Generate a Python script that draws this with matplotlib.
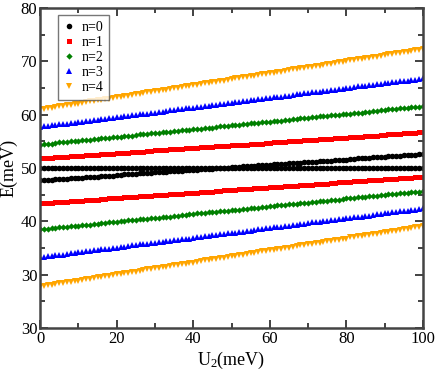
import matplotlib
matplotlib.use('Agg')
import matplotlib.pyplot as plt
import numpy as np

plt.rcParams['font.family'] = ['Liberation Serif', 'DejaVu Serif']
plt.rcParams['mathtext.fontset'] = 'stix'
plt.rcParams['mathtext.default'] = 'regular'

# U2 grid (meV), one marker per meV
u2 = list(range(0, 101))

# energies (meV), two branches per n
n0_flat = [
    50.0, 50.0, 50.0, 50.0, 50.0, 50.0, 50.0, 50.0, 50.0, 50.0,
    50.0, 50.0, 50.0, 50.0, 50.0, 50.0, 50.0, 50.0, 50.0, 50.0,
    50.0, 50.0, 50.0, 50.0, 50.0, 50.0, 50.0, 50.0, 50.0, 50.0,
    50.0, 50.0, 50.0, 50.0, 50.0, 50.0, 50.0, 50.0, 50.0, 50.0,
    50.0, 50.0, 50.0, 50.0, 50.0, 50.0, 50.0, 50.0, 50.0, 50.0,
    50.0, 50.0, 50.0, 50.0, 50.0, 50.0, 50.0, 50.0, 50.0, 50.0,
    50.0, 50.0, 50.0, 50.0, 50.0, 50.0, 50.0, 50.0, 50.0, 50.0,
    50.0, 50.0, 50.0, 50.0, 50.0, 50.0, 50.0, 50.0, 50.0, 50.0,
    50.0, 50.0, 50.0, 50.0, 50.0, 50.0, 50.0, 50.0, 50.0, 50.0,
    50.0, 50.0, 50.0, 50.0, 50.0, 50.0, 50.0, 50.0, 50.0, 50.0,
    50.0]
n0_rise = [
    47.7, 47.7, 47.8, 47.8, 47.9, 47.9, 48.0, 48.0, 48.1, 48.1,
    48.2, 48.2, 48.3, 48.3, 48.4, 48.4, 48.5, 48.5, 48.6, 48.6,
    48.7, 48.7, 48.8, 48.8, 48.9, 48.9, 49.0, 49.0, 49.1, 49.1,
    49.2, 49.2, 49.3, 49.3, 49.4, 49.4, 49.5, 49.5, 49.6, 49.6,
    49.7, 49.7, 49.8, 49.8, 49.9, 49.9, 50.0, 50.0, 50.1, 50.1,
    50.2, 50.2, 50.2, 50.3, 50.3, 50.4, 50.4, 50.5, 50.5, 50.6,
    50.6, 50.7, 50.7, 50.8, 50.8, 50.9, 50.9, 51.0, 51.0, 51.1,
    51.1, 51.2, 51.2, 51.3, 51.3, 51.4, 51.4, 51.5, 51.5, 51.6,
    51.6, 51.7, 51.7, 51.8, 51.8, 51.9, 51.9, 52.0, 52.0, 52.1,
    52.1, 52.2, 52.2, 52.3, 52.3, 52.4, 52.4, 52.5, 52.5, 52.6,
    52.6]
n1_up = [
    51.8, 51.8, 51.9, 51.9, 52.0, 52.0, 52.1, 52.1, 52.2, 52.2,
    52.3, 52.3, 52.4, 52.4, 52.5, 52.5, 52.6, 52.6, 52.7, 52.7,
    52.8, 52.8, 52.9, 52.9, 53.0, 53.0, 53.1, 53.1, 53.2, 53.2,
    53.3, 53.3, 53.4, 53.4, 53.5, 53.5, 53.6, 53.6, 53.7, 53.7,
    53.8, 53.8, 53.9, 53.9, 54.0, 54.0, 54.1, 54.1, 54.2, 54.2,
    54.3, 54.3, 54.3, 54.4, 54.4, 54.5, 54.5, 54.6, 54.6, 54.7,
    54.7, 54.8, 54.8, 54.9, 54.9, 55.0, 55.0, 55.1, 55.1, 55.2,
    55.2, 55.3, 55.3, 55.4, 55.4, 55.5, 55.5, 55.6, 55.6, 55.7,
    55.7, 55.8, 55.8, 55.9, 55.9, 56.0, 56.0, 56.1, 56.1, 56.2,
    56.2, 56.3, 56.3, 56.4, 56.4, 56.5, 56.5, 56.6, 56.6, 56.7,
    56.7]
n1_lo = [
    43.4, 43.4, 43.5, 43.5, 43.6, 43.6, 43.7, 43.7, 43.8, 43.8,
    43.9, 43.9, 44.0, 44.0, 44.1, 44.1, 44.2, 44.2, 44.3, 44.3,
    44.4, 44.4, 44.5, 44.5, 44.6, 44.6, 44.7, 44.7, 44.8, 44.8,
    44.9, 44.9, 45.0, 45.0, 45.1, 45.1, 45.2, 45.2, 45.3, 45.3,
    45.4, 45.4, 45.5, 45.5, 45.6, 45.6, 45.7, 45.7, 45.8, 45.8,
    45.9, 45.9, 46.0, 46.0, 46.1, 46.1, 46.2, 46.2, 46.3, 46.3,
    46.4, 46.4, 46.5, 46.5, 46.6, 46.6, 46.7, 46.7, 46.8, 46.8,
    46.9, 46.9, 47.0, 47.0, 47.1, 47.1, 47.2, 47.2, 47.3, 47.3,
    47.4, 47.4, 47.5, 47.5, 47.6, 47.6, 47.7, 47.7, 47.8, 47.8,
    47.9, 47.9, 48.0, 48.0, 48.1, 48.1, 48.2, 48.2, 48.3, 48.3,
    48.4]
n2_up = [
    54.4, 54.5, 54.5, 54.6, 54.7, 54.8, 54.8, 54.9, 55.0, 55.0,
    55.1, 55.2, 55.3, 55.3, 55.4, 55.5, 55.6, 55.6, 55.7, 55.8,
    55.8, 55.9, 56.0, 56.1, 56.1, 56.2, 56.3, 56.3, 56.4, 56.5,
    56.6, 56.6, 56.7, 56.8, 56.8, 56.9, 57.0, 57.1, 57.1, 57.2,
    57.3, 57.4, 57.4, 57.5, 57.6, 57.6, 57.7, 57.8, 57.9, 57.9,
    58.0, 58.1, 58.1, 58.2, 58.3, 58.4, 58.4, 58.5, 58.6, 58.6,
    58.7, 58.8, 58.9, 58.9, 59.0, 59.1, 59.2, 59.2, 59.3, 59.4,
    59.4, 59.5, 59.6, 59.7, 59.7, 59.8, 59.9, 59.9, 60.0, 60.1,
    60.2, 60.2, 60.3, 60.4, 60.4, 60.5, 60.6, 60.7, 60.7, 60.8,
    60.9, 61.0, 61.0, 61.1, 61.2, 61.2, 61.3, 61.4, 61.5, 61.5,
    61.6]
n2_lo = [
    38.5, 38.6, 38.6, 38.7, 38.8, 38.9, 38.9, 39.0, 39.1, 39.1,
    39.2, 39.3, 39.4, 39.4, 39.5, 39.6, 39.7, 39.7, 39.8, 39.9,
    39.9, 40.0, 40.1, 40.2, 40.2, 40.3, 40.4, 40.4, 40.5, 40.6,
    40.7, 40.7, 40.8, 40.9, 40.9, 41.0, 41.1, 41.2, 41.2, 41.3,
    41.4, 41.5, 41.5, 41.6, 41.7, 41.7, 41.8, 41.9, 42.0, 42.0,
    42.1, 42.2, 42.2, 42.3, 42.4, 42.5, 42.5, 42.6, 42.7, 42.7,
    42.8, 42.9, 43.0, 43.0, 43.1, 43.2, 43.3, 43.3, 43.4, 43.5,
    43.5, 43.6, 43.7, 43.8, 43.8, 43.9, 44.0, 44.0, 44.1, 44.2,
    44.3, 44.3, 44.4, 44.5, 44.5, 44.6, 44.7, 44.8, 44.8, 44.9,
    45.0, 45.1, 45.1, 45.2, 45.3, 45.3, 45.4, 45.5, 45.6, 45.6,
    45.7]
n3_up = [
    57.7, 57.8, 57.9, 58.0, 58.1, 58.2, 58.2, 58.3, 58.4, 58.5,
    58.6, 58.7, 58.8, 58.9, 59.0, 59.1, 59.2, 59.2, 59.3, 59.4,
    59.5, 59.6, 59.7, 59.8, 59.9, 60.0, 60.1, 60.2, 60.2, 60.3,
    60.4, 60.5, 60.6, 60.7, 60.8, 60.9, 61.0, 61.1, 61.2, 61.2,
    61.3, 61.4, 61.5, 61.6, 61.7, 61.8, 61.9, 62.0, 62.1, 62.2,
    62.2, 62.3, 62.4, 62.5, 62.6, 62.7, 62.8, 62.9, 63.0, 63.1,
    63.2, 63.3, 63.3, 63.4, 63.5, 63.6, 63.7, 63.8, 63.9, 64.0,
    64.1, 64.2, 64.3, 64.3, 64.4, 64.5, 64.6, 64.7, 64.8, 64.9,
    65.0, 65.1, 65.2, 65.3, 65.3, 65.4, 65.5, 65.6, 65.7, 65.8,
    65.9, 66.0, 66.1, 66.2, 66.3, 66.3, 66.4, 66.5, 66.6, 66.7,
    66.8]
n3_lo = [
    33.3, 33.4, 33.5, 33.6, 33.7, 33.8, 33.8, 33.9, 34.0, 34.1,
    34.2, 34.3, 34.4, 34.5, 34.6, 34.7, 34.8, 34.8, 34.9, 35.0,
    35.1, 35.2, 35.3, 35.4, 35.5, 35.6, 35.7, 35.8, 35.8, 35.9,
    36.0, 36.1, 36.2, 36.3, 36.4, 36.5, 36.6, 36.7, 36.8, 36.8,
    36.9, 37.0, 37.1, 37.2, 37.3, 37.4, 37.5, 37.6, 37.7, 37.8,
    37.8, 37.9, 38.0, 38.1, 38.2, 38.3, 38.4, 38.5, 38.6, 38.7,
    38.8, 38.9, 38.9, 39.0, 39.1, 39.2, 39.3, 39.4, 39.5, 39.6,
    39.7, 39.8, 39.9, 39.9, 40.0, 40.1, 40.2, 40.3, 40.4, 40.5,
    40.6, 40.7, 40.8, 40.9, 40.9, 41.0, 41.1, 41.2, 41.3, 41.4,
    41.5, 41.6, 41.7, 41.8, 41.9, 41.9, 42.0, 42.1, 42.2, 42.3,
    42.5]
n4_up = [
    61.0, 61.1, 61.2, 61.3, 61.5, 61.6, 61.7, 61.8, 61.9, 62.0,
    62.1, 62.2, 62.4, 62.5, 62.6, 62.7, 62.8, 62.9, 63.0, 63.1,
    63.3, 63.4, 63.5, 63.6, 63.7, 63.8, 63.9, 64.1, 64.2, 64.3,
    64.4, 64.5, 64.6, 64.7, 64.8, 65.0, 65.1, 65.2, 65.3, 65.4,
    65.5, 65.6, 65.7, 65.9, 66.0, 66.1, 66.2, 66.3, 66.4, 66.5,
    66.7, 66.8, 66.9, 67.0, 67.1, 67.2, 67.3, 67.4, 67.6, 67.7,
    67.8, 67.9, 68.0, 68.1, 68.2, 68.3, 68.5, 68.6, 68.7, 68.8,
    68.9, 69.0, 69.1, 69.2, 69.4, 69.5, 69.6, 69.7, 69.8, 69.9,
    70.0, 70.2, 70.3, 70.4, 70.5, 70.6, 70.7, 70.8, 70.9, 71.1,
    71.2, 71.3, 71.4, 71.5, 71.6, 71.7, 71.8, 72.0, 72.1, 72.2,
    72.3]
n4_lo = [
    27.8, 27.9, 28.0, 28.1, 28.3, 28.4, 28.5, 28.6, 28.7, 28.8,
    28.9, 29.0, 29.2, 29.3, 29.4, 29.5, 29.6, 29.7, 29.8, 29.9,
    30.1, 30.2, 30.3, 30.4, 30.5, 30.6, 30.7, 30.9, 31.0, 31.1,
    31.2, 31.3, 31.4, 31.5, 31.6, 31.8, 31.9, 32.0, 32.1, 32.2,
    32.3, 32.4, 32.5, 32.7, 32.8, 32.9, 33.0, 33.1, 33.2, 33.3,
    33.5, 33.6, 33.7, 33.8, 33.9, 34.0, 34.1, 34.2, 34.4, 34.5,
    34.6, 34.7, 34.8, 34.9, 35.0, 35.1, 35.3, 35.4, 35.5, 35.6,
    35.7, 35.8, 35.9, 36.0, 36.2, 36.3, 36.4, 36.5, 36.6, 36.7,
    36.8, 37.0, 37.1, 37.2, 37.3, 37.4, 37.5, 37.6, 37.7, 37.9,
    38.0, 38.1, 38.2, 38.3, 38.4, 38.5, 38.6, 38.8, 38.9, 39.0,
    39.1]

labels = ['n=0', 'n=1', 'n=2', 'n=3', 'n=4']
branches = [(n0_flat, n0_rise), (n1_up, n1_lo), (n2_up, n2_lo),
            (n3_up, n3_lo), (n4_up, n4_lo)]
colors = ['black', 'red', '#008000', 'blue', '#FFA500']
markers = ['o', 's', 'D', '^', 'v']
msizes = [4.0, 3.6, 3.2, 4.2, 4.2]

yticks = [20, 30, 40, 50, 60, 70, 80]
ytick_labels = ['30', '30', '40', '50', '60', '70', '80']

fig = plt.figure(figsize=(4.36, 3.82), dpi=100)
ax = fig.add_axes([0.092, 0.141, 0.878, 0.838])

for i in range(5):
    for j, e in enumerate(branches[i]):
        ax.plot(u2, e, linestyle='none', marker=markers[i], color=colors[i],
                markersize=msizes[i], markeredgewidth=0,
                label=labels[i] if j == 0 else None)

ax.set_xlim(0, 100)
ax.set_ylim(20, 80)
ax.set_xticks([0, 20, 40, 60, 80, 100])
ax.set_xticks([10, 30, 50, 70, 90], minor=True)
ax.set_yticks(yticks)
ax.set_yticklabels(ytick_labels)
ax.set_yticks([25, 35, 45, 55, 65, 75], minor=True)
ax.tick_params(which='both', direction='in', top=True, right=True,
               labelsize=12, width=1.3, color='#333333', pad=2)
ax.tick_params(which='major', length=6)
ax.tick_params(which='minor', length=3.5)
for s in ax.spines.values():
    s.set_linewidth(1.8)
    s.set_color('#444444')

ax.set_xlabel('U$_2$(meV)', fontsize=13, labelpad=2)
ax.set_ylabel('E(meV)', fontsize=13, labelpad=2)

leg = ax.legend(loc='upper left', bbox_to_anchor=(0.047, 0.978), fontsize=10,
                frameon=True, fancybox=False, handlelength=0.8,
                handletextpad=0.5, labelspacing=0.15, borderpad=0.4,
                borderaxespad=0, markerscale=1.0)
leg.get_frame().set_edgecolor('#555555')
leg.get_frame().set_linewidth(1.0)

plt.savefig('out.png', dpi=100)
